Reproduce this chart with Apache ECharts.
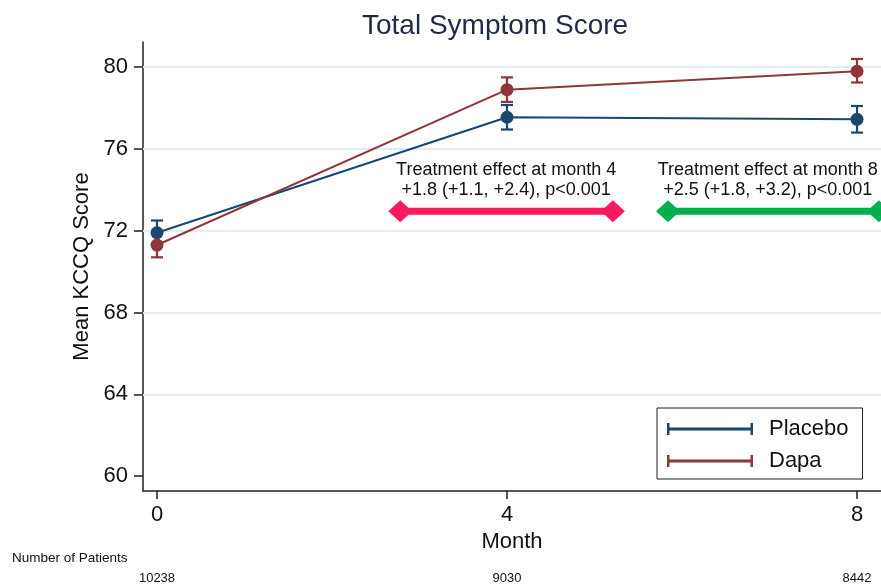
<!DOCTYPE html>
<html><head><meta charset="utf-8">
<script src="https://cdn.jsdelivr.net/npm/echarts@6/dist/echarts.min.js"></script>
<style>html,body{margin:0;padding:0;background:#fff}#c{width:881px;height:585px}</style>
</head><body><div id="c"></div>
<script>
const months = [0, 4, 8];
const patients = [10238, 9030, 8442];
const placeboMean = [71.9, 77.55, 77.45];
const placeboLow = [71.3, 76.95, 76.8];
const placeboHigh = [72.5, 78.15, 78.1];
const dapaMean = [71.3, 78.9, 79.8];
const dapaLow = [70.7, 78.3, 79.25];
const dapaHigh = [71.9, 79.5, 80.4];
const yTicks = [60, 64, 68, 72, 76, 80];
const effect4 = { x: [2.78, 5.21], y: 72.95, text: ['Treatment effect at month 4', '+1.8 (+1.1, +2.4), p<0.001'], tx: 3.99, ty: 74.47 };
const effect8 = { x: [5.84, 8.25], y: 72.95, text: ['Treatment effect at month 8', '+2.5 (+1.8, +3.2), p<0.001'], tx: 6.98, ty: 74.47 };

const FONT = '"Liberation Sans", Arial, Helvetica, sans-serif';
const BLUE = '#1a476f', RED = '#90353b';

function errSeries(name, color, low, high) {
  return {
    type: 'custom', name: name, z: 3,
    data: months.map((m, i) => [m, low[i], high[i]]),
    encode: { x: 0, y: [1, 2] },
    renderItem: function (params, api) {
      const x = api.value(0);
      const p1 = api.coord([x, api.value(1)]);
      const p2 = api.coord([x, api.value(2)]);
      const w = 6;
      const st = { stroke: color, lineWidth: 2.2 };
      return { type: 'group', children: [
        { type: 'line', shape: { x1: p1[0], y1: p1[1], x2: p2[0], y2: p2[1] }, style: st },
        { type: 'line', shape: { x1: p1[0] - w, y1: p1[1], x2: p1[0] + w, y2: p1[1] }, style: st },
        { type: 'line', shape: { x1: p2[0] - w, y1: p2[1], x2: p2[0] + w, y2: p2[1] }, style: st }
      ]};
    }
  };
}
function arrowSeries(e, color) {
  return {
    type: 'line', name: 'arrow' + color, z: 4,
    data: e.x.map(v => [v, e.y]),
    symbol: 'diamond', symbolSize: [24, 22], showSymbol: true,
    itemStyle: { color: color }, lineStyle: { color: color, width: 7 },
    silent: true, animation: false
  };
}
function textSeries(e) {
  return {
    type: 'scatter', name: 'txt', z: 5, symbolSize: 0, silent: true,
    itemStyle: { opacity: 1 },
    data: [[e.tx, e.ty]],
    label: { show: true, position: 'inside', formatter: e.text.join('\n'), opacity: 1,
      fontFamily: FONT, fontSize: 18, color: '#111', textBorderWidth: 0, textBorderColor: 'transparent',
      lineHeight: 20, align: 'center' }
  };
}
const legendIcon = 'path://M0,0h2.5v12h-2.5z M2.5,4.6h81v2.8h-81z M83.5,0h2.5v12h-2.5z';

const chart = echarts.init(document.getElementById('c'), null, { renderer: 'canvas' });
chart.setOption({
  backgroundColor: '#fff',
  animation: false,
  title: { text: 'Total Symptom Score', left: 357, top: 7,
    textStyle: { fontFamily: FONT, fontSize: 28, fontWeight: 'normal', color: '#1e2a4a' } },
  grid: { left: 143, right: 0, top: 42, bottom: 94 },
  legend: {
    data: [{ name: 'Placebo', icon: legendIcon }, { name: 'Dapa', icon: legendIcon }],
    orient: 'vertical', left: 657, top: 408,
    itemWidth: 86, itemHeight: 12, itemGap: 10,
    padding: [10, 14, 7, 10],
    borderColor: '#222', borderWidth: 1, backgroundColor: '#fff',
    textStyle: { fontFamily: FONT, fontSize: 22, color: '#111', padding: [0, 0, 0, 11] }
  },
  xAxis: [{
    type: 'value', min: -0.16, max: 8.274,
    name: 'Month', nameLocation: 'middle', nameGap: 37,
    nameTextStyle: { fontFamily: FONT, fontSize: 22, color: '#111' },
    axisLine: { show: true, onZero: false, lineStyle: { color: '#222', width: 1.5 } },
    axisTick: { show: true, customValues: months, length: 8, lineStyle: { color: '#222', width: 1.5 } },
    axisLabel: { customValues: months, fontFamily: FONT, fontSize: 22, color: '#111', margin: 13 },
    splitLine: { show: false }
  }, {
    type: 'value', min: -0.16, max: 8.274, position: 'bottom', offset: 78,
    axisLine: { show: false }, axisTick: { show: false }, splitLine: { show: false },
    axisLabel: { customValues: months, fontFamily: FONT, fontSize: 13, color: '#111', margin: 3,
      formatter: v => { const i = months.indexOf(v); return i >= 0 ? String(patients[i]) : ''; } }
  }],
  yAxis: {
    type: 'value', min: 59.27, max: 81.23,
    name: 'Mean KCCQ Score', nameLocation: 'middle', nameGap: 50,
    nameTextStyle: { fontFamily: FONT, fontSize: 22, color: '#111' },
    axisLine: { show: true, onZero: false, lineStyle: { color: '#222', width: 1.5 } },
    axisTick: { show: true, customValues: yTicks, length: 9, lineStyle: { color: '#222', width: 1.5 } },
    axisLabel: { customValues: yTicks, fontFamily: FONT, fontSize: 22, color: '#111', margin: 15 },
    splitLine: { show: false }
  },
  graphic: [{ type: 'text', left: 12, top: 551,
    style: { text: 'Number of Patients', fontFamily: FONT, fontSize: 13.5, fill: '#111' } }],
  series: [
    {
      type: 'line', name: 'grid', silent: true, data: [], z: 1,
      markLine: { silent: true, symbol: 'none', z: 1, label: { show: false },
        lineStyle: { color: '#e6edf2', width: 2, type: 'solid' },
        data: yTicks.filter(v => v > 60).map(v => ({ yAxis: v })) }
    },
    {
      type: 'line', name: 'Placebo', z: 3,
      data: months.map((m, i) => [m, placeboMean[i]]),
      symbol: 'circle', symbolSize: 13, showSymbol: true,
      itemStyle: { color: BLUE }, lineStyle: { color: BLUE, width: 2 }
    },
    {
      type: 'line', name: 'Dapa', z: 3,
      data: months.map((m, i) => [m, dapaMean[i]]),
      symbol: 'circle', symbolSize: 13, showSymbol: true,
      itemStyle: { color: RED }, lineStyle: { color: RED, width: 2 }
    },
    errSeries('PlaceboErr', BLUE, placeboLow, placeboHigh),
    errSeries('DapaErr', RED, dapaLow, dapaHigh),
    arrowSeries(effect4, '#fb1a5d'),
    arrowSeries(effect8, '#00b04f'),
    textSeries(effect4),
    textSeries(effect8)
  ]
});
</script></body></html>
